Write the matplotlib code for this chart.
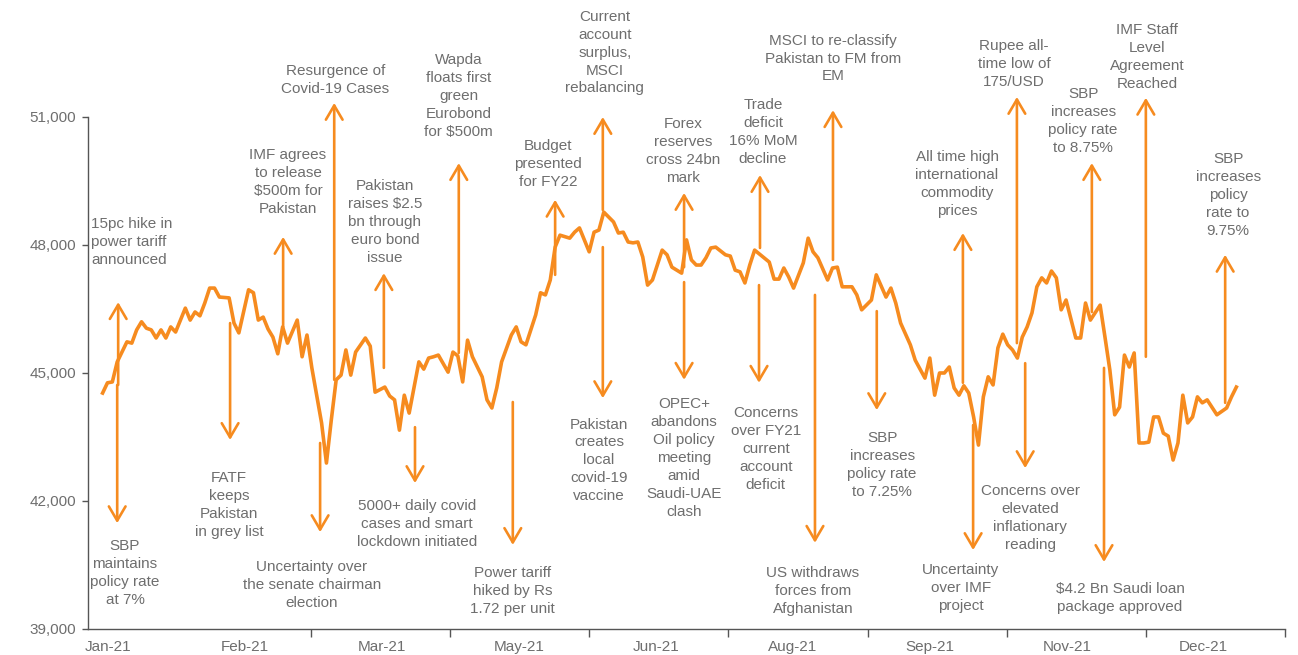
import matplotlib
matplotlib.use("Agg")
import matplotlib.pyplot as plt

# KSE-100 index, trading day -> close
days = [3, 4, 5, 6, 8, 9, 10, 11, 12, 13, 14, 15, 16, 17, 18, 19, 20, 21, 22, 23,
        24, 25, 26, 27, 29, 30, 31, 33, 34, 35, 36, 37, 38, 39, 40, 41, 43, 44, 45, 46,
        48, 49, 50, 51, 52, 53, 54, 55, 57, 58, 59, 61, 62, 63, 64, 65, 66, 68, 69, 70,
        71, 72, 74, 75, 76, 77, 78, 79, 81, 82, 83, 84, 85, 87, 88, 89, 90, 91, 92, 93,
        94, 95, 96, 97, 99, 100, 101, 103, 104, 105, 106, 108, 109, 110, 111, 112, 113, 114, 115, 116,
        118, 119, 120, 122, 123, 124, 125, 126, 127, 128, 129, 131, 132, 133, 134, 135, 136, 137, 140, 141,
        142, 143, 144, 145, 147, 148, 149, 150, 152, 153, 154, 155, 157, 158, 159, 161, 162, 164, 165, 166,
        167, 169, 170, 172, 173, 174, 175, 176, 177, 178, 179, 180, 181, 182, 183, 184, 185, 186, 187,
        188, 189, 190, 191, 192, 193, 194, 195, 196, 197, 198, 199, 200, 201, 203, 204, 205, 206, 208, 209,
        210, 211, 212, 213, 214, 215, 216, 217, 218, 219, 220, 221, 222, 223, 224, 225, 226, 227, 228, 229,
        230, 232, 234, 235, 236]
kse100 = [44530, 44770, 44790, 45260, 45730, 45700, 46010, 46200, 46050, 46010, 45820, 46010, 45820, 46080, 45960, 46240, 46520, 46240, 46430, 46340,
          46640, 46990, 46990, 46780, 46760, 46170, 45940, 46950, 46880, 46240, 46310, 46030, 45840, 45450, 46080, 45700, 46240, 45380, 45890, 45120,
          43830, 42890, 43900, 44840, 44950, 45540, 44950, 45490, 45820, 45630, 44550, 44670, 44460, 44370, 43660, 44480, 44060, 45260, 45090, 45350,
          45380, 45420, 45020, 45490, 45400, 44790, 45770, 45380, 44910, 44370, 44180, 44650, 45260, 45890, 46080, 45730, 45660, 46010, 46360, 46880,
          46830, 47180, 47950, 48230, 48160, 48300, 48400, 47840, 48300, 48350, 48770, 48540, 48280, 48300, 48070, 48050, 48070, 47720, 47060, 47180,
          47880, 47770, 47480, 47340, 48120, 47650, 47530, 47530, 47700, 47930, 47950, 47770, 47740, 47410, 47370, 47110, 47530, 47880, 47600, 47200,
          47200, 47460, 47250, 46990, 47580, 48160, 47840, 47700, 47180, 47460, 47480, 47020, 47020, 46830, 46480, 46710, 47300, 46780, 46990, 46640,
          46170, 45660, 45300, 44880, 45350, 44480, 45000, 45000, 45140, 44650, 44480, 44700, 44530, 43970, 43310, 44440, 44910, 44720, 45590,
          45910, 45660, 45540, 45350, 45840, 46080, 46410, 47020, 47230, 47110, 47390, 47230, 46480, 46710, 45820, 45820, 46640, 46240, 46590, 45840,
          45070, 44020, 44200, 45420, 45140, 45470, 43360, 43360, 43380, 43970, 43970, 43590, 43520, 42960, 43360, 44480, 43830, 43970, 44440, 44300,
          44370, 44020, 44180, 44440, 44670]

month_labels = ["Jan-21", "Feb-21", "Mar-21", "May-21", "Jun-21", "Aug-21", "Sep-21", "Nov-21", "Dec-21"]
y_ticks = [39000, 42000, 45000, 48000, 51000]

event_labels = [
    "15pc hike in\npower tariff\nannounced",
    "SBP\nmaintains\npolicy rate\nat 7%",
    "FATF\nkeeps\nPakistan\nin grey list",
    "IMF agrees\nto release\n$500m for\nPakistan",
    "Resurgence of\nCovid-19 Cases",
    "Uncertainty over\nthe senate chairman\nelection",
    "Pakistan\nraises $2.5\nbn through\neuro bond\nissue",
    "5000+ daily covid\ncases and smart\nlockdown initiated",
    "Wapda\nfloats first\ngreen\nEurobond\nfor $500m",
    "Power tariff\nhiked by Rs\n1.72 per unit",
    "Budget\npresented\nfor FY22",
    "Current\naccount\nsurplus,\nMSCI\nrebalancing",
    "Pakistan\ncreates\nlocal\ncovid-19\nvaccine",
    "Forex\nreserves\ncross 24bn\nmark",
    "OPEC+\nabandons\nOil policy\nmeeting\namid\nSaudi-UAE\nclash",
    "Trade\ndeficit\n16% MoM\ndecline",
    "Concerns\nover FY21\ncurrent\naccount\ndeficit",
    "MSCI to re-classify\nPakistan to FM from\nEM",
    "US withdraws\nforces from\nAfghanistan",
    "SBP\nincreases\npolicy rate\nto 7.25%",
    "All time high\ninternational\ncommodity\nprices",
    "Uncertainty\nover IMF\nproject",
    "Rupee all-\ntime low of\n175/USD",
    "Concerns over\nelevated\ninflationary\nreading",
    "SBP\nincreases\npolicy rate\nto 8.75%",
    "$4.2 Bn Saudi loan\npackage approved",
    "IMF Staff\nLevel\nAgreement\nReached",
    "SBP\nincreases\npolicy\nrate to\n9.75%",
]

# layout: arrow x, arrow tail, arrow head, text x, text y (data units)
layout = [
    (6.2, 44720, 46660, 0.6, 48080),
    (6.0, 44720, 41480, 7.6, 40310),
    (29.2, 46170, 43430, 29.0, 41900),
    (40.1, 46080, 48190, 41.1, 49480),
    (50.6, 44840, 51330, 50.8, 51870),
    (47.7, 43360, 41270, 46.0, 40030),
    (60.8, 45120, 47340, 61.0, 48540),
    (67.2, 43730, 42420, 67.6, 41470),
    (76.2, 45470, 49920, 76.2, 51490),
    (87.3, 44320, 40970, 87.3, 39890),
    (96.0, 47300, 49060, 94.5, 49900),
    (105.8, 48820, 51000, 106.2, 52510),
    (105.8, 47950, 44410, 105.0, 42950),
    (122.5, 47480, 49220, 122.3, 50210),
    (122.5, 47130, 44840, 122.5, 43000),
    (138.1, 47930, 49640, 138.7, 50640),
    (137.9, 47060, 44770, 139.3, 43210),
    (153.1, 47650, 51160, 153.1, 52370),
    (149.4, 46830, 41020, 149.0, 39880),
    (162.1, 46450, 44130, 163.2, 42840),
    (179.8, 44770, 48280, 178.6, 49420),
    (181.9, 43780, 40850, 179.4, 39960),
    (190.9, 45700, 51470, 190.3, 52240),
    (192.6, 45230, 42770, 193.6, 41610),
    (206.3, 46430, 49920, 204.5, 50900),
    (208.8, 45120, 40570, 212.1, 39720),
    (217.4, 45380, 51450, 217.6, 52400),
    (233.7, 44300, 47770, 234.3, 49180),
]

orange = "#F68B1F"
grey = "#6e6e6e"
plt.rcParams["font.family"] = ["Liberation Sans", "DejaVu Sans"]

fig = plt.figure(figsize=(12.98, 6.55), dpi=100)
ax = fig.add_axes([0.0678, 0.0397, 0.9222, 0.7817])

ax.plot(days, kse100, color=orange, lw=2.6, solid_joinstyle="round", zorder=3)

for label, (ax_x, tail, head, tx, ty) in zip(event_labels, layout):
    ax.annotate("", xy=(ax_x, head), xytext=(ax_x, tail),
                arrowprops=dict(arrowstyle="->,head_length=0.85,head_width=0.5",
                                color=orange, lw=1.9, shrinkA=0, shrinkB=0,
                                mutation_scale=12),
                annotation_clip=False, zorder=2)
    ha = "left" if tx < 2 else "center"
    ax.text(tx, ty, label, ha=ha, va="center", multialignment=ha,
            fontsize=11, color=grey, linespacing=1.36, clip_on=False)

ax.set_xlim(0, 246)
ax.set_ylim(39000, 51000)
ax.set_yticks(y_ticks)
ax.set_yticklabels([f"{v:,}" for v in y_ticks])

label_pos = [4.1 + 28.15 * i for i in range(len(month_labels))]
tick_pos = [45.8 + 28.6 * i for i in range(8)]
ax.set_xticks(label_pos)
ax.set_xticklabels(month_labels)
ax.set_xticks(tick_pos, minor=True)

for s in ["top", "right"]:
    ax.spines[s].set_visible(False)
for s in ["left", "bottom"]:
    ax.spines[s].set_color("#555555")
    ax.spines[s].set_linewidth(1.0)

ax.tick_params(axis="y", length=4.5, width=1.0, color="#555555", labelsize=11,
               labelcolor=grey, pad=4)
ax.tick_params(axis="x", which="major", length=0, labelsize=11, labelcolor=grey, pad=8)
ax.tick_params(axis="x", which="minor", length=6, width=1.0, color="#555555")

fig.savefig("out.png", dpi=100)
